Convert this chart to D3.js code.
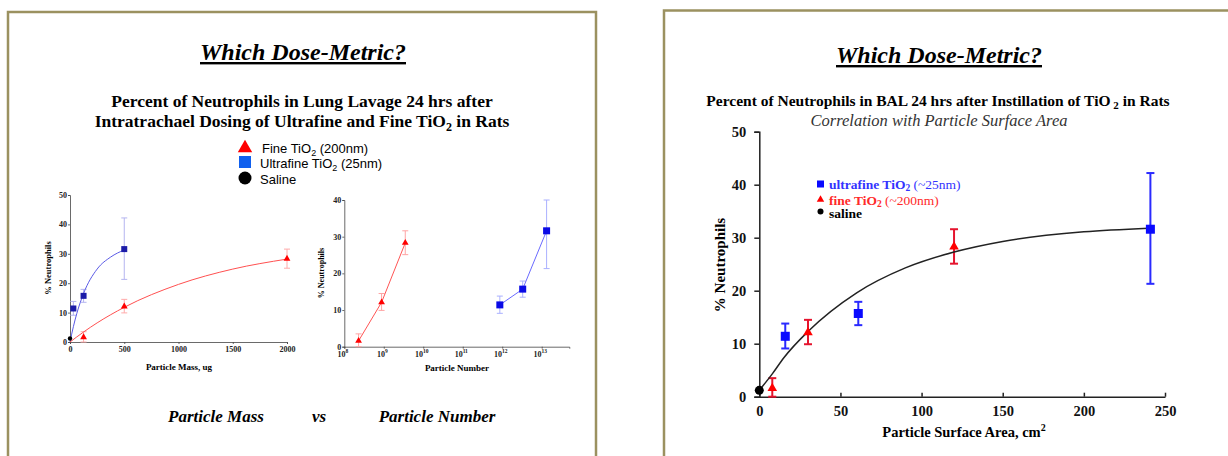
<!DOCTYPE html>
<html>
<head>
<meta charset="utf-8">
<script src="https://cdn.jsdelivr.net/npm/d3@7"></script>
<style>
  body { margin: 0; background: #fff; }
  svg { display: block; font-family: "Liberation Serif", "Times New Roman", serif; }
</style>
</head>
<body>
<script>
const WIDTH = 1228
const HEIGHT = 456

// valeurs
const ufMass = [31, 125, 500]
const fineMass = [125, 500, 2000]
const ufNumber = [8.7e11, 3.3e12, 1.33e13]
const fineNumber = [2.3e8, 8.8e8, 3.5e9]
const ufSurface = [16, 61, 241]
const fineSurface = [8, 30, 120]

const ufMean = [11.4, 15.7, 31.6]
const ufLow = [9.1, 13.5, 21.3]
const ufHigh = [13.8, 17.9, 42.2]
const fineMean = [1.6, 12.1, 28.3]
const fineLow = [0.0, 9.9, 25.1]
const fineHigh = [3.5, 14.5, 31.6]
const salineMean = 1.2

// courbes ajustées
const ufFitMass = [0, 31, 62, 125, 250, 375, 500]
const ufFitPct = [0, 5.2, 9.6, 16.5, 24.8, 28.9, 31.3]
const fineFitMass = [0, 125, 250, 500, 1000, 1500, 2000]
const fineFitPct = [0, 3.4, 6.5, 11.8, 19.6, 24.8, 28.2]
const areaFitX = [0, 8, 15, 30, 60, 90, 120, 150, 200, 240]
const areaFitY = [1.2, 4.3, 7.3, 12.3, 19.6, 24.3, 27.3, 29.3, 31.1, 31.8]

const massTicks = [0, 500, 1000, 1500, 2000]
const pctTicks50 = [0, 10, 20, 30, 40, 50]
const pctTicks40 = [0, 10, 20, 30, 40]
const numberTicks = [1e8, 1e9, 1e10, 1e11, 1e12, 1e13]
const areaTicks = [0, 50, 100, 150, 200, 250]

const svg = d3.select('body').append('svg')
  .attr('width', WIDTH)
  .attr('height', HEIGHT)

const BORDER = '#9b9160'
const SERIF = '"Liberation Serif", "Times New Roman", serif'
const SANS = '"Liberation Sans", Arial, sans-serif'

// --- cadres ---
svg.append('rect')
  .attr('x', 8).attr('y', 12).attr('width', 588).attr('height', 470)
  .attr('fill', 'none').attr('stroke', BORDER).attr('stroke-width', 2.5)
svg.append('rect')
  .attr('x', 664).attr('y', 10.5).attr('width', 600).attr('height', 470)
  .attr('fill', 'none').attr('stroke', BORDER).attr('stroke-width', 2.5)

function bigTitle(x, y) {
  svg.append('text')
    .attr('x', x).attr('y', y)
    .attr('text-anchor', 'middle')
    .attr('font-size', 24).attr('font-weight', 'bold').attr('font-style', 'italic')
    .attr('text-decoration', 'underline')
    .text('Which Dose-Metric?')
}
bigTitle(303, 60)
bigTitle(939, 63)

// --- panneau gauche ---
const sub1 = svg.append('text')
  .attr('text-anchor', 'middle').attr('font-size', 17.5).attr('font-weight', 'bold')
sub1.append('tspan').attr('x', 302).attr('y', 107).text('Percent of Neutrophils in Lung Lavage 24 hrs after')
const l2 = sub1.append('tspan').attr('x', 302).attr('y', 127)
l2.append('tspan').text('Intratrachael Dosing of Ultrafine and Fine TiO')
l2.append('tspan').attr('font-size', 12).attr('dy', 4).text('2')
l2.append('tspan').attr('dy', -4).text(' in Rats')

// légende
const legL = svg.append('g').attr('font-size', 13).attr('font-family', SANS)
legL.append('path')
  .attr('d', d3.symbol(d3.symbolTriangle, 90)())
  .attr('transform', 'translate(245,148)').attr('fill', '#f00')
legL.append('rect').attr('x', 239).attr('y', 156).attr('width', 12).attr('height', 12).attr('fill', '#1060ee')
legL.append('circle').attr('cx', 245).attr('cy', 178).attr('r', 6.5).attr('fill', '#000')
function legText(g, x, y, a, sub, b) {
  const t = g.append('text').attr('x', x).attr('y', y)
  t.append('tspan').text(a)
  if (sub) {
    t.append('tspan').attr('font-size', 9).attr('dy', 3).text(sub)
    t.append('tspan').attr('dy', -3).text(b)
  }
  return t
}
legText(legL, 262, 153, 'Fine TiO', '2', ' (200nm)')
legText(legL, 260, 168, 'Ultrafine TiO', '2', ' (25nm)')
legText(legL, 260, 184, 'Saline', null, null)

function errorBars(g, xs, low, high, x, y, color, cap, width) {
  const gg = g.append('g').attr('stroke', color).attr('stroke-width', width).attr('fill', 'none')
  xs.forEach((v, i) => {
    const px = x(v)
    gg.append('line').attr('x1', px).attr('x2', px).attr('y1', y(low[i])).attr('y2', y(high[i]))
    gg.append('line').attr('x1', px - cap).attr('x2', px + cap).attr('y1', y(low[i])).attr('y2', y(low[i]))
    gg.append('line').attr('x1', px - cap).attr('x2', px + cap).attr('y1', y(high[i])).attr('y2', y(high[i]))
  })
}

function styleSmallAxis(g, fs) {
  g.selectAll('path, line').attr('stroke', '#444').attr('stroke-width', 0.8)
  g.selectAll('text').attr('font-size', fs).attr('font-weight', 'bold')
    .attr('font-family', SERIF).attr('fill', '#222')
}

// graphique 1 : masse
const x1 = d3.scaleLinear().domain([0, 2000]).range([70, 287])
const y1 = d3.scaleLinear().domain([0, 50]).range([342, 195])
const g1 = svg.append('g')
const ax1 = g1.append('g').attr('transform', 'translate(0,342)')
  .call(d3.axisBottom(x1).tickValues(massTicks).tickFormat(d3.format('d')).tickSize(2).tickPadding(2))
styleSmallAxis(ax1, 8)
const ay1 = g1.append('g').attr('transform', 'translate(70,0)')
  .call(d3.axisLeft(y1).tickValues(pctTicks50).tickSize(2).tickPadding(1))
styleSmallAxis(ay1, 8)
g1.append('text').attr('transform', 'translate(51,268) rotate(-90)')
  .attr('text-anchor', 'middle').attr('font-size', 8.5).attr('font-weight', 'bold').text('% Neutrophils')
g1.append('text').attr('x', 179).attr('y', 370)
  .attr('text-anchor', 'middle').attr('font-size', 9).attr('font-weight', 'bold').text('Particle Mass, ug')

const line1 = d3.line().curve(d3.curveMonotoneX)
errorBars(g1, ufMass, ufLow, ufHigh, x1, y1, '#b4b4f0', 3, 1)
errorBars(g1, fineMass, fineLow, fineHigh, x1, y1, '#ffaaaa', 3, 1)
g1.append('path').attr('d', line1(ufFitMass.map((v, i) => [x1(v), y1(ufFitPct[i])])))
  .attr('fill', 'none').attr('stroke', '#5a5ae6').attr('stroke-width', 1)
g1.append('path').attr('d', line1(fineFitMass.map((v, i) => [x1(v), y1(fineFitPct[i])])))
  .attr('fill', 'none').attr('stroke', '#ff5050').attr('stroke-width', 1)
g1.selectAll('.uf').data(ufMass).enter().append('rect')
  .attr('x', (d) => x1(d) - 3).attr('y', (d, i) => y1(ufMean[i]) - 3)
  .attr('width', 6).attr('height', 6).attr('fill', '#1c1ca8')
g1.selectAll('.fi').data(fineMass).enter().append('path')
  .attr('d', d3.symbol(d3.symbolTriangle, 20)())
  .attr('transform', (d, i) => `translate(${x1(d)},${y1(fineMean[i])})`).attr('fill', '#f00')
g1.append('circle').attr('cx', x1(0)).attr('cy', y1(salineMean)).attr('r', 2.2).attr('fill', '#000')

// graphique 2 : nombre
const x2 = d3.scaleLog().domain([1e8, 5e13]).range([344.3, 569.3])
const y2 = d3.scaleLinear().domain([0, 40]).range([346.7, 200])
const g2 = svg.append('g')
const ax2 = g2.append('g').attr('transform', 'translate(0,346.7)')
  .call(d3.axisBottom(x2).tickValues(numberTicks).tickSize(2).tickPadding(3).tickFormat(''))
styleSmallAxis(ax2, 8)
ax2.selectAll('.tick text').each(function (d) {
  const t = d3.select(this).text(null).attr('dx', -2)
  t.append('tspan').text('10')
  t.append('tspan').attr('font-size', 5.5).attr('dy', -4).text(Math.round(Math.log10(d)))
})
const ay2 = g2.append('g').attr('transform', 'translate(344.3,0)')
  .call(d3.axisLeft(y2).tickValues(pctTicks40).tickSize(2).tickPadding(1))
styleSmallAxis(ay2, 8)
g2.append('text').attr('transform', 'translate(324,273) rotate(-90)')
  .attr('text-anchor', 'middle').attr('font-size', 8).attr('font-weight', 'bold').text('% Neutrophils')
g2.append('text').attr('x', 457).attr('y', 371)
  .attr('text-anchor', 'middle').attr('font-size', 9).attr('font-weight', 'bold').text('Particle Number')

const clip40 = (a) => a.map((v) => Math.min(v, 40))
errorBars(g2, ufNumber, ufLow, clip40(ufHigh), x2, y2, '#aab0ff', 3, 1)
errorBars(g2, fineNumber, fineLow, fineHigh, x2, y2, '#ffa4a4', 3, 1)
const line2 = d3.line()
g2.append('path').attr('d', line2(ufNumber.map((v, i) => [x2(v), y2(ufMean[i])])))
  .attr('fill', 'none').attr('stroke', '#6a6aff').attr('stroke-width', 1)
g2.append('path').attr('d', line2(fineNumber.map((v, i) => [x2(v), y2(fineMean[i])])))
  .attr('fill', 'none').attr('stroke', '#ff5555').attr('stroke-width', 1)
g2.selectAll('.uf').data(ufNumber).enter().append('rect')
  .attr('x', (d) => x2(d) - 3.5).attr('y', (d, i) => y2(ufMean[i]) - 3.5)
  .attr('width', 7).attr('height', 7).attr('fill', '#0a0ae6')
g2.selectAll('.fi').data(fineNumber).enter().append('path')
  .attr('d', d3.symbol(d3.symbolTriangle, 20)())
  .attr('transform', (d, i) => `translate(${x2(d)},${y2(fineMean[i])})`).attr('fill', '#f00')

// légende du bas
const foot = svg.append('g').attr('font-size', 17).attr('font-weight', 'bold').attr('font-style', 'italic')
foot.append('text').attr('x', 216).attr('y', 422).attr('text-anchor', 'middle').text('Particle Mass')
foot.append('text').attr('x', 319).attr('y', 422).attr('text-anchor', 'middle').text('vs')
foot.append('text').attr('x', 437).attr('y', 422).attr('text-anchor', 'middle').text('Particle Number')

// --- panneau droit : surface ---
const st = svg.append('text').attr('x', 938).attr('y', 106)
  .attr('text-anchor', 'middle').attr('font-size', 15.5).attr('font-weight', 'bold')
st.append('tspan').text('Percent of Neutrophils in BAL 24 hrs after Instillation of TiO')
st.append('tspan').attr('font-size', 11).attr('dy', 3).text(' 2')
st.append('tspan').attr('dy', -3).text(' in Rats')
svg.append('text').attr('x', 939).attr('y', 126)
  .attr('text-anchor', 'middle').attr('font-size', 16.5).attr('font-style', 'italic').attr('fill', '#333')
  .text('Correlation with Particle Surface Area')

const x3 = d3.scaleLinear().domain([0, 250]).range([759.3, 1165])
const y3 = d3.scaleLinear().domain([0, 50]).range([396.7, 131.7])
const g3 = svg.append('g')
const ax3 = g3.append('g').attr('transform', 'translate(0,396.7)')
  .call(d3.axisBottom(x3).tickValues(areaTicks).tickSizeInner(-4).tickSizeOuter(0).tickPadding(9))
const ay3 = g3.append('g').attr('transform', 'translate(759.3,0)')
  .call(d3.axisLeft(y3).tickValues(pctTicks50).tickSize(5).tickPadding(4))
;[ax3, ay3].forEach((a) => {
  a.selectAll('path, line').attr('stroke', '#222').attr('stroke-width', 1.5)
  a.selectAll('text').attr('font-size', 14.5).attr('font-weight', 'bold')
    .attr('font-family', SERIF).attr('fill', '#111')
})
ay3.selectAll('.tick text').attr('dx', -4)
g3.append('text').attr('transform', 'translate(725,265) rotate(-90)')
  .attr('text-anchor', 'middle').attr('font-size', 15).attr('font-weight', 'bold').text('% Neutrophils')
const xl = g3.append('text').attr('x', 964).attr('y', 437)
  .attr('text-anchor', 'middle').attr('font-size', 14.5).attr('font-weight', 'bold')
xl.append('tspan').text('Particle Surface Area, cm')
xl.append('tspan').attr('font-size', 10).attr('dy', -6).text('2')

errorBars(g3, ufSurface, ufLow, ufHigh, x3, y3, '#2a2aff', 4, 2)
errorBars(g3, fineSurface, fineLow, fineHigh, x3, y3, '#e5142e', 4, 2)
g3.append('path').attr('d', d3.line().curve(d3.curveMonotoneX)(areaFitX.map((v, i) => [x3(v), y3(areaFitY[i])])))
  .attr('fill', 'none').attr('stroke', '#222').attr('stroke-width', 1.5)
g3.selectAll('.uf').data(ufSurface).enter().append('rect')
  .attr('x', (d) => x3(d) - 4.5).attr('y', (d, i) => y3(ufMean[i]) - 4.5)
  .attr('width', 9).attr('height', 9).attr('fill', '#0a0aff')
g3.selectAll('.fi').data(fineSurface).enter().append('path')
  .attr('d', d3.symbol(d3.symbolTriangle, 40)())
  .attr('transform', (d, i) => `translate(${x3(d)},${y3(fineMean[i])})`).attr('fill', '#ff0000')
g3.append('circle').attr('cx', x3(0)).attr('cy', y3(salineMean)).attr('r', 4.5).attr('fill', '#000')

// légende droite
const legR = svg.append('g').attr('font-size', 13.5)
legR.append('rect').attr('x', 817).attr('y', 180.5).attr('width', 7).attr('height', 7).attr('fill', '#0a0aff')
legR.append('path').attr('d', d3.symbol(d3.symbolTriangle, 24)())
  .attr('transform', 'translate(820.5,199.5)').attr('fill', '#ff0000')
legR.append('circle').attr('cx', 820.5).attr('cy', 211.5).attr('r', 3).attr('fill', '#000')
function legRich(y, color, boldPart, rest) {
  const t = legR.append('text').attr('x', 829).attr('y', y).attr('fill', color)
  t.append('tspan').attr('font-weight', 'bold').text(boldPart)
  if (rest) {
    t.append('tspan').attr('font-weight', 'bold').attr('font-size', 9.5).attr('dy', 2).text('2')
    t.append('tspan').attr('font-size', 13.5).attr('dy', -2).text(rest)
  }
}
legRich(189, '#3333ff', 'ultrafine TiO', ' (~25nm)')
legRich(204.5, '#ff2a2a', 'fine TiO', ' (~200nm)')
legRich(217.5, '#000', 'saline', null)
</script>
</body>
</html>
